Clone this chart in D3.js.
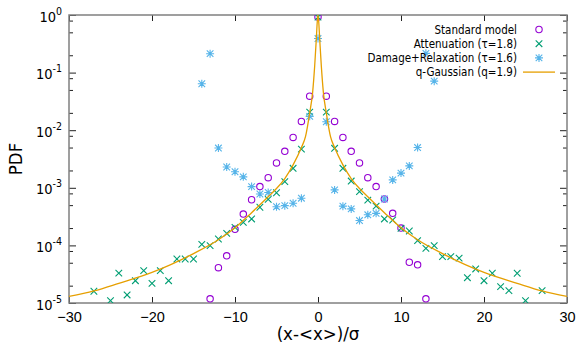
<!DOCTYPE html>
<html>

<head>
    <meta charset="utf-8">
    <title>PDF</title>
    <style>
        body {
            margin: 0;
            background: white;
        }

        svg {
            font-family: 'DejaVu Sans Condensed', 'DejaVu Sans', sans-serif;
            font-stretch: condensed;
            color: #000;
        }
    </style>
</head>

<body>
    <figure style="margin:0"></figure>

    <script src="https://cdn.jsdelivr.net/npm/d3@7"></script>

    <script>

        ////////////////////////////////////
        ///////////// Data /////////////////
        ////////////////////////////////////

        // Standard model (circles)
        const stdX = [-13, -12, -11, -10, -9, -8, -7, -6, -5, -4, -3, -2, -1, 0, 1, 2, 3, 4, 5, 6, 7, 8, 9, 10, 11, 12, 13]
        const stdY = [1.18e-5, 4.1e-5, 6.6e-5, 1.9e-4, 3.5e-4, 6.2e-4, 1.05e-3, 1.5e-3, 2.7e-3, 4.3e-3, 7.5e-3, 1.42e-2, 3.9e-2, 0.92,
            3.9e-2, 1.42e-2, 7.5e-3, 4.3e-3, 2.7e-3, 1.5e-3, 1.05e-3, 6.4e-4, 3.6e-4, 2.0e-4, 5.1e-5, 4.6e-5, 1.18e-5]

        // Attenuation (crosses)
        const attX = [-27, -25, -24, -23, -22, -21, -20, -19, -18, -17, -16, -15, -14, -13, -12, -11, -10, -9, -8, -7, -6, -5, -4, -3, -2, -1, 0,
            1, 2, 3, 4, 5, 6, 7, 8, 9, 10, 11, 12, 13, 14, 15, 16, 17, 18, 19, 20, 21, 22, 23, 24, 25, 27]
        const attY = [1.6e-5, 1.1e-5, 3.3e-5, 1.38e-5, 2.44e-5, 3.64e-5, 2.19e-5, 3.64e-5, 2.44e-5, 5.8e-5, 5.8e-5, 5.8e-5, 1.04e-4, 9.9e-5,
            1.29e-4, 1.62e-4, 2.06e-4, 2.51e-4, 2.88e-4, 4.6e-4, 6.3e-4, 8.2e-4, 1.28e-3, 2.18e-3, 4.7e-3, 2.06e-2, 0.92,
            2.06e-2, 4.85e-3, 2.18e-3, 1.31e-3, 8.6e-4, 6.1e-4, 4.8e-4, 2.88e-4, 2.76e-4, 1.98e-4, 1.78e-4, 1.21e-4, 8.9e-5, 9.9e-5,
            6.4e-5, 6.4e-5, 6.0e-5, 2.75e-5, 3.9e-5, 2.44e-5, 3.28e-5, 1.92e-5, 1.64e-5, 3.28e-5, 1.1e-5, 1.64e-5]

        // Damage+Relaxation (stars)
        const dmgX = [-14, -13, -12, -11, -10, -9, -8, -7, -6, -5, -4, -3, -2, -1, 0, 1, 2, 3, 4, 5, 6, 7, 8, 9, 10, 11, 12, 13, 14]
        const dmgY = [0.064, 0.213, 4.9e-3, 2.3e-3, 1.9e-3, 1.55e-3, 1.05e-3, 7.8e-4, 8.3e-4, 4.7e-4, 4.9e-4, 5.4e-4, 6.6e-4, 1.74e-2, 0.39,
            1.4e-2, 9.2e-4, 4.8e-4, 4.3e-4, 2.7e-4, 3.4e-4, 3.6e-4, 6.4e-4, 1.37e-3, 1.8e-3, 2.4e-3, 5.0e-3, 0.216, 0.071]

        // q-Gaussian (q=1.9), points
        const qgX = [-30, -27, -24, -20, -15, -12, -10, -8, -6, -5, -4, -3, -2, -1.5, -1, -0.65, -0.4, -0.2, -0.1, 0,
            0.1, 0.2, 0.4, 0.65, 1, 1.5, 2, 3, 4, 5, 6, 8, 10, 12, 15, 20, 24, 27, 30]
        const qgY = [1.3e-5, 1.62e-5, 2.2e-5, 3.4e-5, 7.2e-5, 1.25e-4, 2.02e-4, 3.7e-4, 7.0e-4, 9.7e-4, 1.45e-3, 2.5e-3, 5.0e-3, 7.8e-3, 2.0e-2, 4.5e-2, 0.13, 0.39, 0.72, 1.0,
            0.72, 0.39, 0.13, 4.5e-2, 2.0e-2, 7.8e-3, 5.0e-3, 2.5e-3, 1.45e-3, 9.7e-4, 7.0e-4, 3.7e-4, 2.02e-4, 1.25e-4, 7.2e-5, 3.4e-5, 2.2e-5, 1.62e-5, 1.3e-5]

        const xTicks = [-30, -20, -10, 0, 10, 20, 30]
        const yTicks = [1, 1e-1, 1e-2, 1e-3, 1e-4, 1e-5]
        const yExps = ['0', '-1', '-2', '-3', '-4', '-5']
        const legendLabels = ['Standard model', 'Attenuation (τ=1.8)', 'Damage+Relaxation (τ=1.6)', 'q-Gaussian (q=1.9)']

        ////////////////////////////////////
        ///////////// SVG Setup ////////////
        ////////////////////////////////////

        const width = 577
        const height = 351
        const margin = { left: 69, right: 10, top: 15, bottom: 48 }

        const colors = {
            std: '#9400d3',
            att: '#009e73',
            dmg: '#56b4e9',
            qg: '#e69f00'
        }

        const svg = d3.select('figure')
            .append('svg')
            .attr('width', width)
            .attr('height', height)

        ////////////////////////////////////
        /////////////// Scales /////////////
        ////////////////////////////////////

        const xScale = d3.scaleLinear()
            .domain([-30, 30])
            .range([margin.left, width - margin.right])

        const yScale = d3.scaleLog()
            .domain([1e-5, 1])
            .range([height - margin.bottom, margin.top])

        const x0 = xScale.range()[0], x1 = xScale.range()[1]
        const y0 = yScale.range()[1], y1 = yScale.range()[0]

        svg.append('clipPath')
            .attr('id', 'clip')
            .append('rect')
            .attr('x', x0).attr('y', y0)
            .attr('width', x1 - x0).attr('height', y1 - y0)

        ////////////////////////////////////
        /////////////// Axes ///////////////
        ////////////////////////////////////

        // bottom and top ticks
        const xAxisB = d3.axisBottom(xScale).tickValues(xTicks).tickSizeInner(-6).tickSizeOuter(0).tickPadding(9)
        const xAxisT = d3.axisTop(xScale).tickValues(xTicks).tickSizeInner(-6).tickSizeOuter(0).tickFormat('')

        const gxb = svg.append('g').attr('transform', `translate(0,${y1})`).call(xAxisB)
        const gxt = svg.append('g').attr('transform', `translate(0,${y0})`).call(xAxisT)

        // minor ticks on log axis at 2, 5, 8 of every decade
        const minorTicks = []
        yTicks.slice(1).forEach(function (t) {
            [2, 5, 8].forEach(function (m) { minorTicks.push(t * m) })
        })

        const yAxisL = d3.axisLeft(yScale).tickValues(yTicks).tickSizeInner(-7).tickSizeOuter(0).tickFormat('')
        const yAxisR = d3.axisRight(yScale).tickValues(yTicks).tickSizeInner(-7).tickSizeOuter(0).tickFormat('')
        const yMinorL = d3.axisLeft(yScale).tickValues(minorTicks).tickSizeInner(-4).tickSizeOuter(0).tickFormat('')
        const yMinorR = d3.axisRight(yScale).tickValues(minorTicks).tickSizeInner(-4).tickSizeOuter(0).tickFormat('')

        svg.append('g').attr('transform', `translate(${x0},0)`).call(yAxisL)
        svg.append('g').attr('transform', `translate(${x1},0)`).call(yAxisR)
        svg.append('g').attr('transform', `translate(${x0},0)`).call(yMinorL)
        svg.append('g').attr('transform', `translate(${x1},0)`).call(yMinorR)

        svg.selectAll('.domain').remove()
        svg.selectAll('.tick line').attr('stroke', '#222').attr('stroke-width', 1)

        gxb.selectAll('.tick text')
            .attr('fill', '#000')
            .style('font-size', '14.5px')

        // y labels 10^n
        const ylab = svg.append('g')
            .selectAll('text')
            .data(yTicks)
            .enter()
            .append('text')
            .attr('x', x0 - 7)
            .attr('y', function (d) { return yScale(d) + 6.5 })
            .attr('text-anchor', 'end')
            .style('font-size', '14.5px')
        ylab.append('tspan').text('10')
        ylab.append('tspan')
            .attr('dy', -7)
            .style('font-size', '10.5px')
            .text(function (d, i) { return yExps[i] })

        // frame
        svg.append('rect')
            .attr('x', x0).attr('y', y0)
            .attr('width', x1 - x0).attr('height', y1 - y0)
            .attr('fill', 'none')
            .attr('stroke', '#808080')
            .attr('stroke-width', 1.5)

        // axis titles
        svg.append('text')
            .attr('x', xScale(0))
            .attr('y', 340)
            .attr('text-anchor', 'middle')
            .style('font-size', '18.5px')
            .text('(x-<x>)/σ')

        svg.append('text')
            .attr('transform', `translate(22,${(y0 + y1) / 2}) rotate(-90)`)
            .attr('text-anchor', 'middle')
            .style('font-size', '18.5px')
            .text('PDF')

        ////////////////////////////////////
        /////////////// Draw items /////////
        ////////////////////////////////////

        const plot = svg.append('g').attr('clip-path', 'url(#clip)')

        const crossPath = 'M-3.3,-3.3L3.3,3.3M-3.3,3.3L3.3,-3.3'
        const starPath = 'M-3.3,-3.3L3.3,3.3M-3.3,3.3L3.3,-3.3M-4,0L4,0M0,-4L0,4'

        const std = d3.zip(stdX, stdY)
        const att = d3.zip(attX, attY)
        const dmg = d3.zip(dmgX, dmgY)
        const qg = d3.zip(qgX, qgY)

        plot.selectAll('circle.std')
            .data(std)
            .enter()
            .append('circle')
            .attr('class', 'std')
            .attr('cx', function (d) { return xScale(d[0]) })
            .attr('cy', function (d) { return yScale(d[1]) })
            .attr('r', 3.2)
            .attr('fill', 'none')
            .attr('stroke', colors.std)
            .attr('stroke-width', 1.1)

        plot.selectAll('path.att')
            .data(att)
            .enter()
            .append('path')
            .attr('class', 'att')
            .attr('d', crossPath)
            .attr('transform', function (d) { return `translate(${xScale(d[0])},${yScale(d[1])})` })
            .attr('stroke', colors.att)
            .attr('stroke-width', 1.1)

        plot.selectAll('path.dmg')
            .data(dmg)
            .enter()
            .append('path')
            .attr('class', 'dmg')
            .attr('d', starPath)
            .attr('transform', function (d) { return `translate(${xScale(d[0])},${yScale(d[1])})` })
            .attr('stroke', colors.dmg)
            .attr('stroke-width', 1.1)

        const line = d3.line()
            .x(function (d) { return xScale(d[0]) })
            .y(function (d) { return yScale(d[1]) })
            .curve(d3.curveMonotoneX)

        plot.append('path')
            .datum(qg)
            .attr('d', line)
            .attr('fill', 'none')
            .attr('stroke', colors.qg)
            .attr('stroke-width', 1.3)

        ////////////////////////////////////
        /////////////// Legend /////////////
        ////////////////////////////////////

        const legend = svg.append('g')
        const rowY = function (i) { return 29.5 + i * 14.2 }

        legend.selectAll('text')
            .data(legendLabels)
            .enter()
            .append('text')
            .attr('x', 517)
            .attr('y', function (d, i) { return rowY(i) + 4 })
            .attr('text-anchor', 'end')
            .style('font-size', '11.5px')
            .text(function (d) { return d })

        legend.append('circle')
            .attr('cx', 539).attr('cy', rowY(0)).attr('r', 3.2)
            .attr('fill', 'none').attr('stroke', colors.std).attr('stroke-width', 1.1)
        legend.append('path')
            .attr('d', crossPath).attr('transform', `translate(539,${rowY(1)})`)
            .attr('stroke', colors.att).attr('stroke-width', 1.1)
        legend.append('path')
            .attr('d', starPath).attr('transform', `translate(539,${rowY(2)})`)
            .attr('stroke', colors.dmg).attr('stroke-width', 1.1)
        legend.append('line')
            .attr('x1', 523).attr('x2', 555)
            .attr('y1', rowY(3)).attr('y2', rowY(3))
            .attr('stroke', colors.qg).attr('stroke-width', 1.3)

    </script>
</body>

</html>
